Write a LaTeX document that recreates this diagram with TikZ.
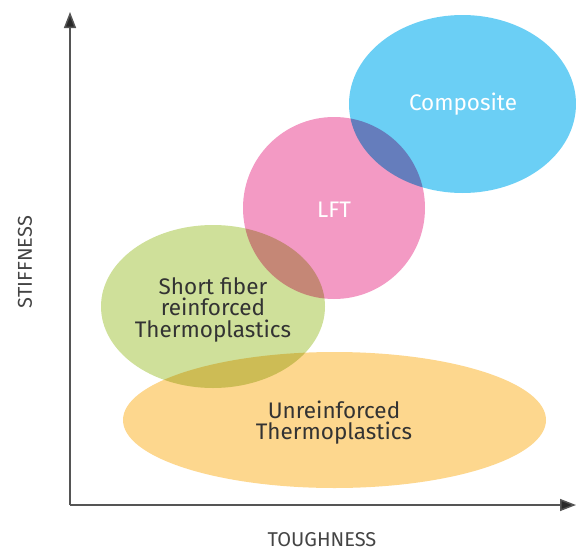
\documentclass[tikz,border=0pt]{standalone}
\usepackage{fontspec}
\setmainfont{Fira Sans}
\usetikzlibrary{arrows.meta,shapes.geometric}
\definecolor{compc}{HTML}{6BCFF5}
\definecolor{lftc}{HTML}{F39AC4}
\definecolor{sfc}{HTML}{CFE09A}
\definecolor{unc}{HTML}{FDD78E}
\definecolor{txtc}{HTML}{333333}
\definecolor{axc}{HTML}{555555}
\tikzset{
  blob/.style={ellipse, inner sep=0pt, outer sep=0pt, draw=none},
  lbl/.style={align=center, font=\fontsize{22.5}{21.5}\selectfont, text=txtc},
  wlbl/.style={align=center, font=\fontsize{22.5}{21.5}\selectfont, text=white},
  axlbl/.style={font=\fontsize{20}{20}\selectfont, text=axc!80!black},
  axis/.style={draw=axc, line width=1.5pt, -{Triangle[width=12pt,length=16pt,fill=axc!50!black]}}
}
\begin{document}
\begin{tikzpicture}[x=1pt,y=-1pt]
\useasboundingbox (0,0) rectangle (576,552);
\clip (0,0) rectangle (576,552);
\begin{scope}[blend mode=multiply]
\node[blob, fill=unc, minimum width=423pt, minimum height=136pt] (un) at (334.5,420) {};
\node[blob, fill=sfc, minimum width=224pt, minimum height=163pt] (sf) at (213,306.5) {};
\node[blob, fill=lftc, minimum width=182pt, minimum height=182pt] (lft) at (334,208) {};
\node[blob, fill=compc, minimum width=227pt, minimum height=178pt] (comp) at (462.5,104) {};
\end{scope}
\node[wlbl] (tcomp) at (463,104.5) {Composite};
\node[wlbl] (tlft) at (334,210) {LFT};
\node[lbl] (tsf) at (213,309.5) {Short fiber\\reinforced\\Thermoplastics};
\node[lbl] (tun) at (334,422.5) {Unreinforced\\Thermoplastics};
\coordinate (o) at (70,505);
\coordinate (ytip) at (70,12);
\coordinate (xtip) at (576,505);
\draw[axis] (o) -- (ytip);
\draw[axis] (o) -- (xtip);
\node[axlbl] (xl) at (322,540) {TOUGHNESS};
\node[axlbl, rotate=90] (yl) at (25,262) {STIFFNESS};
\end{tikzpicture}
\end{document}
